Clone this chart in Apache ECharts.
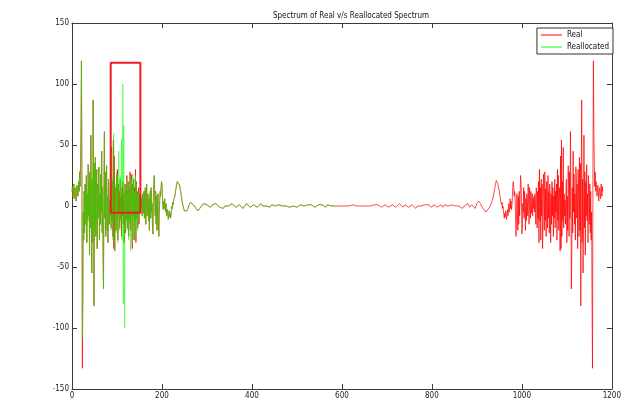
<!DOCTYPE html>
<html>
<head>
<meta charset="utf-8">
<script src="https://cdn.jsdelivr.net/npm/echarts@6/dist/echarts.min.js"></script>
<style>html,body{margin:0;padding:0;background:#fff;}#c{width:624px;height:400px;}</style>
</head>
<body>
<div id="c"></div>
<script>
// ---- data ----
const titleText = 'Spectrum of Real v/s Reallocated Spectrum';
const seriesNames = ['Real', 'Reallocated'];
const xTicks = [0, 200, 400, 600, 800, 1000, 1200];
const yTicks = [-150, -100, -50, 0, 50, 100, 150];

// Real: x = 0..259, step 1
const realLeftStart = 0, realLeftStep = 1;
const realLeft = [
 12,16,8,14,18,6,10,15,12,4,
 11,17,13,8,14,20,12,28,16,35,
 64,119,30,-133,-78,-5,-28,12,-22,18,
 -15,8,25,-30,10,-12,34,-8,20,-40,
 28,-18,58,-10,-55,22,-30,87,15,-82,
 35,-20,40,-25,12,30,-35,18,-10,25,
 32,-28,10,-15,26,-5,45,-22,15,-40,
 -68,20,61,-10,28,-25,18,33,-20,8,
 -30,22,12,-15,5,-8,10,-18,48,-12,
 20,-25,54,-35,41,-37,15,8,-20,25,
 -12,30,-28,18,-5,12,-18,22,-10,8,
 -25,15,-8,20,-15,10,-30,5,18,-22,
 12,-10,25,-18,8,20,-25,14,-12,28,
 -20,10,26,-15,-35,18,-8,22,-28,15,
 -12,30,-30,20,-10,12,-18,8,15,-15,
 5,10,-5,8,-2,6,-8,10,2,-6,
 12,-10,8,15,-15,5,18,-8,3,10,
 -12,6,-20,4,12,-10,15,-5,2,-18,
 -23,10,20,25,5,-8,12,-15,8,-20,
 -5,10,-12,-25,-8,5,12,8,15,20,
 18,8,0,-3,4,-2,6,-1,-5,2,
 -4,-8,-3,-6,-11,-7,-4,-9,-6,-10,
 -8,-3,0,-2,3,1,5,4,7,9,
 12,14,15,18,20,21,20,21,19,17,
 15,14,11,8,6,3,2,0,-2,-3,
 -4,-5,-4,-3,-5,-4,-3,-4,-2,0
];
// Real: x = 260..940, step 4
const realMidStart = 260, realMidStep = 4;
const realMid = [
 1,3,2,0,-2,-4,-2,0,2,3,
 1,0,-1,1,0,2,1,-1,0,-2,
 0,1,0,-1,2,1,-1,0,1,0,
 -2,0,2,1,-1,0,1,1,-1,0,
 2,0,-1,0,1,-1,1,0,0,-1,
 1,2,0,-1,0,1,-1,0,0,1,
 -1,0,1,0,0,-1,1,0,1,0,
 -1,0,1,2,1,0,-1,1,0,0,
 1,0,-1,0,1,0,-1,0,1,0,
 -1,1,2,0,-1,0,1,0,-1,0,
 1,0,-1,1,0,1,2,-1,0,1,
 0,-1,0,1,0,-1,0,2,1,-1,
 1,0,-1,0,1,0,-2,0,1,0,
 -1,1,2,1,0,-1,1,0,-1,0,
 1,-1,1,2,0,-1,1,2,0,-1,
 0,1,-2,0,1,2,-1,1,0,-2,
 2,4,2,-1,-3,-5,-4,-1,2,7,
 15
];
// Real: x = 941..1180, step 1
const realRightStart = 941, realRightStep = 1;
const realRight = [
 17,19,21,20,21,20,18,15,14,12,
 9,7,4,5,1,3,-2,0,-3,-8,
 -10,-6,-9,-4,-7,-11,-6,-3,-8,-4,
 2,-5,-1,6,-2,4,-3,0,8,18,
 20,15,8,12,5,-8,-25,-12,10,-5,
 -20,8,-15,12,-8,5,25,20,10,-23,
 -18,2,-5,15,-10,12,4,-20,6,-12,
 10,3,-8,18,5,-15,15,8,-10,12,
 -6,2,10,-8,6,-2,8,-5,10,5,
 -15,15,8,-18,12,-10,20,-30,30,-12,
 15,-28,22,-8,18,-35,-15,26,10,-20,
 28,-12,14,-25,20,8,-18,25,-10,12,
 -22,18,5,-30,10,-15,20,-8,15,-25,
 8,-10,22,-18,12,-5,18,-28,30,-12,
 25,-20,8,15,-37,41,-35,54,-25,20,
 -12,48,-18,10,-8,5,-15,12,22,-30,
 8,-20,33,18,-25,28,-10,61,20,-68,
 -40,15,-22,45,-5,26,-15,10,-28,32,
 25,-10,18,-35,30,12,-25,40,-20,35,
 -82,15,87,-30,22,-55,-10,58,-18,28,
 -40,20,-8,34,-12,10,-30,25,8,-15,
 18,-22,12,-28,-5,-78,-133,30,119,64,
 35,16,28,12,20,14,8,13,17,11,
 4,12,15,10,6,18,14,8,16,12
];

// Reallocated: x = 0..259, step 1
const reallocLeftStart = 0, reallocLeftStep = 1;
const reallocLeft = [
 12,16,8,14,18,6,10,15,12,4,
 11,17,13,8,14,20,12,28,16,35,
 64,119,30,-108,-78,-5,-28,12,-22,18,
 -15,8,25,-30,10,-12,34,-8,20,-40,
 28,-18,58,-10,-55,22,-30,87,15,-82,
 35,-20,40,-25,12,30,-35,18,-10,25,
 32,-28,10,-15,26,-5,45,-22,15,-40,
 -68,20,61,-10,28,-25,18,33,-20,8,
 -30,22,12,-15,5,-8,12,-20,45,-15,
 22,-28,50,60,-30,-37,18,5,-22,28,
 -15,25,-30,15,45,-8,-20,25,-12,10,
 55,-28,12,100,-80,66,-15,-100,15,-20,
 10,-12,22,-20,5,18,-28,12,-15,25,
 -37,8,22,-18,-30,26,-10,20,-25,12,
 -15,25,-28,18,-12,10,-20,5,12,-12,
 8,10,-5,8,-2,6,-8,10,2,-6,
 12,-10,8,15,-15,5,18,-8,3,10,
 -12,6,-20,4,12,-10,15,-5,2,-18,
 -23,10,20,25,5,-8,12,-15,8,-20,
 -5,10,-12,-25,-8,5,12,8,15,20,
 18,8,0,-3,4,-2,6,-1,-5,2,
 -4,-8,-3,-6,-11,-7,-4,-9,-6,-10,
 -8,-3,0,-2,3,1,5,4,7,9,
 12,14,15,18,20,21,20,21,19,17,
 15,14,11,8,6,3,2,0,-2,-3,
 -4,-5,-4,-3,-5,-4,-3,-4,-2,0
];
// Reallocated: x = 260..588, step 4
const reallocMidStart = 260, reallocMidStep = 4;
const reallocMid = [
 1,3,2,0,-2,-4,-2,0,2,3,
 1,0,-1,1,0,2,1,-1,0,-2,
 0,1,0,-1,2,1,-1,0,1,0,
 -2,0,2,1,-1,0,1,1,-1,0,
 2,0,-1,0,1,-1,1,0,0,-1,
 1,2,0,-1,0,1,-1,0,0,1,
 -1,0,1,0,0,-1,1,0,1,0,
 -1,0,1,2,1,0,-1,1,0,0,
 1,0,-1
];

// highlight rectangle (data coordinates)
const boxX = [86, 86, 152, 152, 86];
const boxY = [-5.5, 117.5, 117.5, -5.5, -5.5];

// ---- build ----
function pairs(start, step, ys) { return ys.map((v, i) => [start + i * step, v]); }
const realData = [].concat(
  pairs(realLeftStart, realLeftStep, realLeft),
  pairs(realMidStart, realMidStep, realMid),
  pairs(realRightStart, realRightStep, realRight));
const reallocData = [].concat(
  pairs(reallocLeftStart, reallocLeftStep, reallocLeft),
  pairs(reallocMidStart, reallocMidStep, reallocMid));
const boxData = boxX.map((x, i) => [x, boxY[i]]);

const FONT = "'Liberation Sans Narrow', 'DejaVu Sans Condensed', 'Liberation Sans', sans-serif";
const axisCol = '#3a3a3a';
const plainNum = v => String(v);

function xAx(pos, showLabel) {
  return {
    type: 'value', position: pos, min: xTicks[0], max: xTicks[xTicks.length - 1],
    interval: xTicks[1] - xTicks[0],
    axisLine: { show: true, onZero: false, lineStyle: { color: axisCol, width: 1 } },
    axisTick: { show: true, inside: true, length: 5, lineStyle: { color: axisCol } },
    axisLabel: { show: showLabel, fontSize: 8, fontFamily: FONT, color: '#222', margin: 3, formatter: plainNum },
    splitLine: { show: false }
  };
}
function yAx(pos, showLabel) {
  return {
    type: 'value', position: pos, min: yTicks[0], max: yTicks[yTicks.length - 1],
    interval: yTicks[1] - yTicks[0],
    axisLine: { show: true, onZero: false, lineStyle: { color: axisCol, width: 1 } },
    axisTick: { show: true, inside: true, length: 5, lineStyle: { color: axisCol } },
    axisLabel: { show: showLabel, fontSize: 8, fontFamily: FONT, color: '#222', margin: 3, formatter: plainNum },
    splitLine: { show: false }
  };
}

const chart = echarts.init(document.getElementById('c'), null, { renderer: 'canvas' });
chart.setOption({
  animation: false,
  backgroundColor: '#fff',
  title: {
    text: titleText, left: 346, top: 7, textAlign: 'center',
    textStyle: { fontSize: 8, fontWeight: 'normal', fontFamily: FONT, color: '#111' }
  },
  legend: {
    data: seriesNames.map(n => ({ name: n, icon: 'rect' })),
    orient: 'vertical', right: 11, top: 28,
    itemWidth: 21, itemHeight: 1, itemGap: 4,
    backgroundColor: '#fff', borderColor: '#333', borderWidth: 1, borderRadius: 0,
    padding: [3, 4, 3, 4],
    textStyle: { fontSize: 8, fontFamily: FONT, color: '#111' }
  },
  grid: { left: 72, right: 8, top: 23, bottom: 10, containLabel: false },
  xAxis: [xAx('bottom', true), xAx('top', false)],
  yAxis: [yAx('left', true), yAx('right', false)],
  series: [
    { name: seriesNames[0], type: 'line', data: realData, symbol: 'none', showSymbol: false,
      lineStyle: { color: '#ff0000', width: 0.8, opacity: 0.9 }, itemStyle: { color: '#ff0000' }, z: 2 },
    { name: seriesNames[1], type: 'line', data: reallocData, symbol: 'none', showSymbol: false,
      lineStyle: { color: '#00ff00', width: 0.8, opacity: 0.6 }, itemStyle: { color: '#00ff00' }, z: 3 },
    { name: 'box', type: 'line', data: boxData, symbol: 'none', showSymbol: false, silent: true,
      lineStyle: { color: '#ee1c24', width: 2 }, z: 4 }
  ]
});
</script>
</body>
</html>
